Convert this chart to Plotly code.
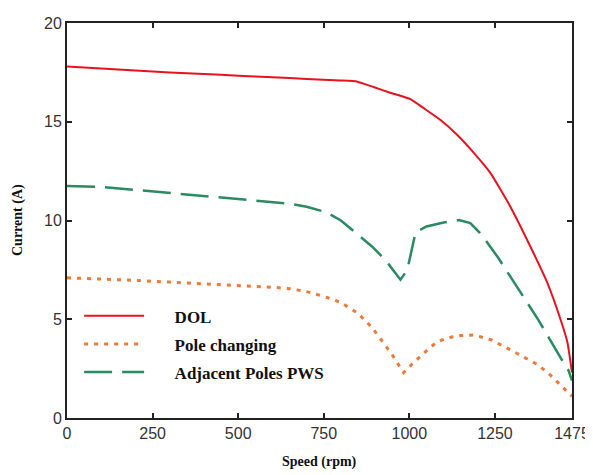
import plotly.graph_objects as go

# Speed (rpm) and current (A)
dol_speed = [0, 100, 200, 300, 400, 500, 600, 700, 798, 848, 895, 944, 1003, 1041, 1091, 1140, 1187, 1237, 1295, 1354, 1403, 1442, 1462, 1475]
dol_current = [17.8, 17.7, 17.6, 17.5, 17.42, 17.33, 17.25, 17.17, 17.09, 17.03, 16.76, 16.47, 16.15, 15.7, 15.09, 14.33, 13.45, 12.4, 10.7, 8.66, 6.84, 4.96, 3.8, 2.3]

pole_speed = [0, 100, 200, 300, 400, 500, 600, 650, 700, 760, 800, 850, 890, 920, 950, 983, 1012, 1050, 1080, 1110, 1150, 1190, 1240, 1290, 1340, 1375, 1410, 1440, 1475]
pole_current = [7.1, 7.05, 6.97, 6.88, 6.8, 6.72, 6.62, 6.55, 6.4, 6.1, 5.85, 5.3, 4.6, 3.9, 3.2, 2.3, 2.8, 3.4, 3.85, 4.05, 4.18, 4.2, 3.95, 3.5, 3.05, 2.7, 2.2, 1.7, 1.1]

pws_speed = [0, 100, 200, 300, 400, 500, 600, 650, 700, 760, 800, 850, 890, 930, 974, 994, 1018, 1050, 1100, 1145, 1178, 1210, 1260, 1286, 1354, 1377, 1442, 1465, 1475]
pws_current = [11.75, 11.7, 11.55, 11.4, 11.25, 11.1, 10.95, 10.85, 10.7, 10.4, 10.0, 9.25, 8.7, 8.0, 7.0, 7.5, 9.4, 9.7, 9.9, 10.02, 9.87, 9.3, 8.1, 7.4, 5.57, 4.96, 3.04, 2.4, 1.9]

x_ticks = [0, 250, 500, 750, 1000, 1250, 1475]
y_ticks = [0, 5, 10, 15, 20]

names = ["DOL", "Pole changing", "Adjacent Poles PWS"]
pad = "\u00a0" * 6

fig = go.Figure()
fig.add_trace(go.Scatter(x=dol_speed, y=dol_current, mode="lines", name=pad + "<b>" + names[0] + "</b>",
                         legendgroup="a", line=dict(color="#e8121e", width=2, shape="spline", smoothing=0.4)))
fig.add_trace(go.Scatter(x=pole_speed, y=pole_current, mode="lines", name=pad + "<b>" + names[1] + "</b>",
                         legendgroup="b", line=dict(color="#ee7a38", width=3, dash="4px,6px")))
fig.add_trace(go.Scatter(x=pws_speed, y=pws_current, mode="lines", name=pad + "<b>" + names[2] + "</b>",
                         legendgroup="c", line=dict(color="#2a8a60", width=2.5, dash="28px,10px")))

axis_common = dict(showline=True, linecolor="#222", linewidth=2, mirror="ticks",
                   ticks="inside", ticklen=5, tickwidth=1.5, tickcolor="#222",
                   showgrid=False, zeroline=False, automargin=False,
                   tickfont=dict(family="Liberation Sans", size=16, color="#333"))

fig.update_xaxes(range=[0, 1475], tickvals=x_ticks, ticktext=[str(v) for v in x_ticks], **axis_common)
fig.update_yaxes(range=[0, 20], tickvals=y_ticks, **axis_common)

title_font = dict(family="Liberation Serif", size=14, color="#111")
fig.add_annotation(text="<b>Speed (rpm)</b>", xref="paper", yref="paper",
                   x=(311 - 59) / 505, y=-(454 - 410) / 395, xanchor="center", yanchor="middle",
                   showarrow=False, font=title_font)
fig.add_annotation(text="<b>Current (A)</b>", xref="paper", yref="paper",
                   x=-(59 - 10) / 505, y=(410 - 212) / 395, xanchor="center", yanchor="middle",
                   textangle=-90, showarrow=False, font=title_font)

fig.update_layout(
    width=585, height=467,
    margin=dict(l=59, r=21, t=15, b=57, autoexpand=False),
    paper_bgcolor="white", plot_bgcolor="white",
    showlegend=True,
    legend=dict(x=0.024, y=0.303, xanchor="left", yanchor="top",
                bgcolor="rgba(0,0,0,0)", itemwidth=60, traceorder="grouped",
                tracegroupgap=3,
                font=dict(family="Liberation Serif", size=17, color="#111")),
)

fig.write_html("out.html")
